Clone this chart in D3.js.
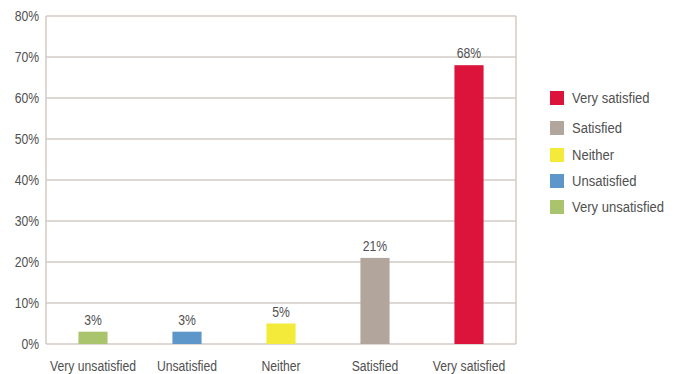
<!DOCTYPE html>
<html lang="en">
<head>
<meta charset="UTF-8">
<title>Satisfaction</title>
<script src="https://d3js.org/d3.v7.min.js"></script>
<style>
    body { margin: 0; background: #fff; }
    svg text {
        font-family: 'Liberation Sans', Arial, sans-serif;
        fill: #505050;
        font-size: 14px;
    }
    svg .legend text { font-size: 15px; }
</style>
</head>
<body>
<svg width="682" height="374"></svg>
<script>
    const categories = ["Very unsatisfied", "Unsatisfied", "Neither", "Satisfied", "Very satisfied"];
    const values = [3, 3, 5, 21, 68];
    const colors = ["#a9c46c", "#5d97c9", "#f4ea3a", "#b2a59c", "#dc143b"];
    const yTicks = [0, 10, 20, 30, 40, 50, 60, 70, 80];
    const legendOrder = ["Very satisfied", "Satisfied", "Neither", "Unsatisfied", "Very unsatisfied"];

    const svg = d3.select("svg"),
        margin = {top: 16, left: 46, right: 166, bottom: 30},
        width = 682 - margin.left - margin.right,
        height = 374 - margin.top - margin.bottom;

    // no condensed font installed, so squeeze text horizontally
    const squeeze = 0.87;
    const at = (px, py) => `translate(${px},${py}) scale(${squeeze},1)`;

    const g = svg.append("g").attr("transform", `translate(${margin.left},${margin.top})`);

    const x = d3.scaleBand().domain(categories).range([0, width]).paddingInner(0.69).paddingOuter(0.345);
    const y = d3.scaleLinear().domain([0, 80]).range([height, 0]);
    const color = d3.scaleOrdinal().domain(categories).range(colors);

    // gridlines
    g.selectAll(".grid").data(yTicks).enter().append("line")
        .attr("x1", 0).attr("x2", width)
        .attr("y1", d => y(d)).attr("y2", d => y(d))
        .attr("stroke", "#d3cbc7").attr("stroke-width", 1.5);

    // frame sides
    g.append("line").attr("x1", 0).attr("x2", 0).attr("y1", 0).attr("y2", height)
        .attr("stroke", "#d3cbc7").attr("stroke-width", 1.5);
    g.append("line").attr("x1", width).attr("x2", width).attr("y1", 0).attr("y2", height)
        .attr("stroke", "#d3cbc7").attr("stroke-width", 1.5);

    // y axis labels
    g.selectAll(".ylab").data(yTicks).enter().append("text")
        .attr("transform", d => at(-7, y(d))).attr("dy", "0.35em")
        .attr("text-anchor", "end")
        .text(d => d + "%");

    // bars
    g.selectAll(".bar").data(values).enter().append("rect")
        .attr("x", (d, i) => x(categories[i]))
        .attr("y", d => y(d))
        .attr("width", x.bandwidth())
        .attr("height", d => height - y(d))
        .attr("fill", (d, i) => color(categories[i]));

    // value labels
    g.selectAll(".val").data(values).enter().append("text")
        .attr("transform", (d, i) => at(x(categories[i]) + x.bandwidth() / 2, y(d) - 7))
        .attr("text-anchor", "middle")
        .text(d => d + "%");

    // x labels
    g.selectAll(".xlab").data(categories).enter().append("text")
        .attr("transform", d => at(x(d) + x.bandwidth() / 2, height + 22))
        .attr("dy", "0.35em")
        .attr("text-anchor", "middle")
        .text(d => d);

    // legend
    const legendY = [98, 128, 155, 181, 207];
    const legend = svg.append("g").attr("class", "legend")
        .selectAll("g").data(legendOrder).enter().append("g")
        .attr("transform", (d, i) => `translate(550,${legendY[i]})`);
    legend.append("rect").attr("x", 0).attr("y", -7).attr("width", 14).attr("height", 14)
        .attr("fill", d => color(d));
    legend.append("text").attr("transform", at(22, 0)).attr("dy", "0.35em").text(d => d);
</script>
</body>
</html>
